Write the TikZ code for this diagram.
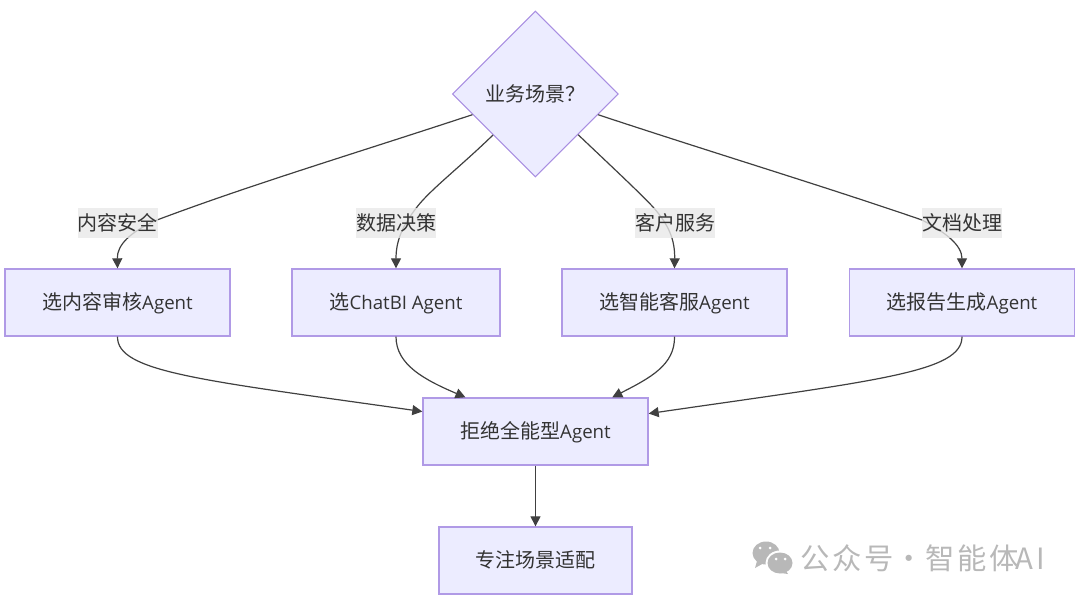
\documentclass[tikz,border=0pt]{standalone}
\usepackage{fontspec}
\setmainfont{Open Sans}
\newfontfamily\cjkraw{Noto Sans CJK SC}
\newcommand{\cjk}{\cjkraw\fontsize{15pt}{17pt}\selectfont}
\newfontfamily\wmfont[LetterSpace=8]{Noto Sans CJK SC}
\usetikzlibrary{arrows.meta,shapes.geometric}
\definecolor{nodefill}{HTML}{ECECFF}
\definecolor{nodeline}{HTML}{B09AE6}
\definecolor{diamline}{HTML}{A88EE2}
\definecolor{ink}{HTML}{333333}
\definecolor{edgeink}{HTML}{404040}
\definecolor{wm}{HTML}{B8B8B8}
\tikzset{
 base/.style={draw=nodeline,fill=nodefill,line width=1pt,text=ink,font=\fontsize{14pt}{17pt}\selectfont},
 box/.style={base,rectangle,inner sep=0pt,anchor=center,text depth=2.2pt},
 choice/.style={base,draw=diamline,diamond,aspect=1,inner sep=0pt,line width=0.8pt},
 conn/.style={draw=edgeink,line width=0.9pt},
 arr/.style={conn,-{Triangle[length=7.5pt,width=7.5pt]}},
 lab/.style={fill=black!9,fill opacity=0.8,text opacity=1,text=ink,inner xsep=0pt,inner ysep=0pt,minimum height=22.5pt,minimum width=59pt,font=\cjk}
}
\begin{document}
\begin{tikzpicture}[x=0.75pt,y=-0.75pt]
\useasboundingbox (0,0) rectangle (1080,602);
\node[choice,minimum width=124.5pt,minimum height=124.5pt] (d) at (535.3,94) {{\cjk 业务场景？}};
\node[box,minimum width=168.75pt,minimum height=50.25pt] (A) at (117.5,302.5) {{\cjk 选内容审核}Agent};
\node[box,minimum width=156pt,minimum height=50.25pt] (B) at (396,302.5) {{\cjk 选}ChatBI Agent};
\node[box,minimum width=168.75pt,minimum height=50.25pt] (C) at (674.5,302.5) {{\cjk 选智能客服}Agent};
\node[box,minimum width=168.75pt,minimum height=50.25pt] (D) at (962,302.5) {{\cjk 选报告生成}Agent};
\node[box,minimum width=168.75pt,minimum height=50.25pt] (E) at (535.5,431.5) {{\cjk 拒绝全能型}Agent};
\node[box,minimum width=144.75pt,minimum height=50.25pt] (F) at (535.5,560.5) {{\cjk 专注场景适配}};

\draw[arr] (d) .. controls (350,155) and (250,185) .. (157,220) .. controls (130,232) and (117,245) .. (A.north);
\draw[arr] (d) .. controls (460,167) and (430,190) .. (417,207) .. controls (403,225) and (396,240) .. (B.north);
\draw[arr] (d) .. controls (610,165) and (640,193) .. (653,207) .. controls (669,225) and (675,240) .. (C.north);
\draw[arr] (d) .. controls (720,155) and (820,185) .. (922,220) .. controls (945,232) and (962,245) .. (D.north);
\draw[arr] (A.south) .. controls (117,372) and (200,380) .. (E.170.7);
\draw[arr] (B.south) .. controls (396,365) and (425,380) .. (E.154.9);
\draw[arr] (C.south) .. controls (675,365) and (650,378) .. (E.24.8);
\draw[arr] (D.south) .. controls (962,372) and (880,380) .. (E.9.3);
\draw[arr] (E.south) -- (F.north);

\node[lab] (l1) at (117.5,223) {内容安全};
\node[lab] (l2) at (396,223) {数据决策};
\node[lab] (l3) at (675,223) {客户服务};
\node[lab] (l4) at (962,223) {文档处理};

% watermark icon
\fill[wm] (766,553) ellipse [x radius=13.5,y radius=11.5];
\fill[wm] (757,561) -- (755,568) -- (764,563) -- cycle;
\fill[white] (780,563) ellipse [x radius=14.5,y radius=12.5];
\fill[wm] (780,563) ellipse [x radius=12.5,y radius=10.5];
\fill[wm] (786,571) -- (788,574) -- (781,573) -- cycle;
\fill[white] (760,548) circle (1.5) (770,548) circle (1.5) (776,559) circle (1.5) (785,559) circle (1.5);
\node[anchor=west,inner sep=0pt,text=wm,font=\fontsize{22pt}{25pt}\selectfont\wmfont] (w) at (800.5,558) {公众号\hspace{0.5pt}·\hspace{1.75pt}智能体\hspace{-2pt}AI};
\end{tikzpicture}
\end{document}
